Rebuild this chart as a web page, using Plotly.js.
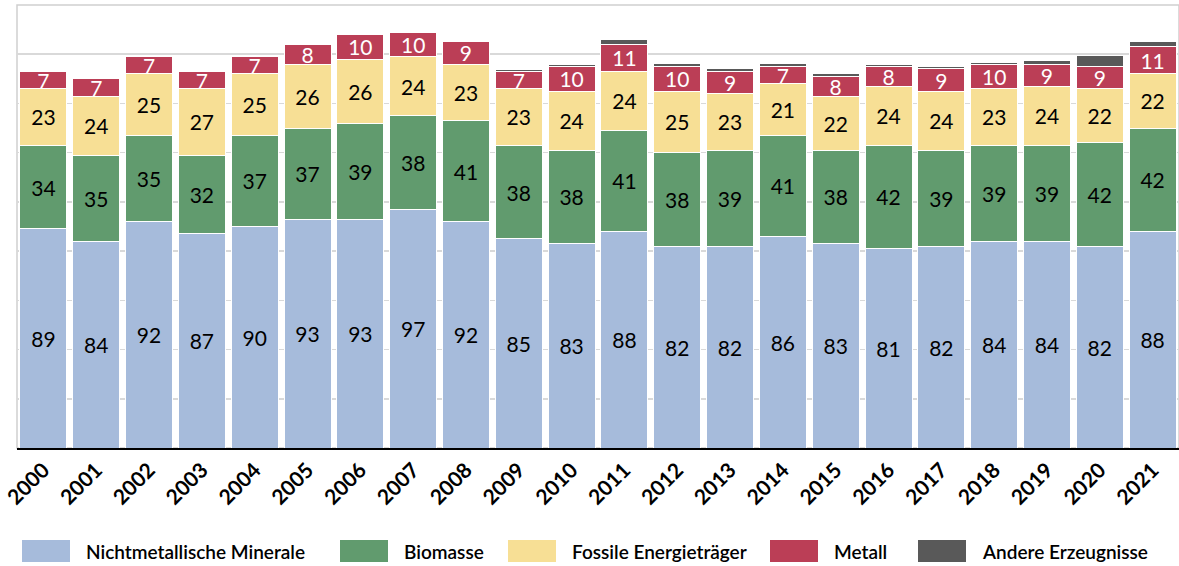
<!DOCTYPE html>
<html>
<head>
<meta charset="utf-8">
<script src="https://cdn.plot.ly/plotly-3.0.1.min.js"></script>
<style>
html,body{margin:0;padding:0;background:#fff;}
#chart{width:1179px;height:566px;}
</style>
</head>
<body>
<div id="chart"></div>
<script>
const years = ["2000","2001","2002","2003","2004","2005","2006","2007","2008","2009","2010","2011","2012","2013","2014","2015","2016","2017","2018","2019","2020","2021"];
const nichtmetallisch = [89,84,92,87,90,93,93,97,92,85,83,88,82,82,86,83,81,82,84,84,82,88];
const biomasse = [34,35,35,32,37,37,39,38,41,38,38,41,38,39,41,38,42,39,39,39,42,42];
const fossile = [23,24,25,27,25,26,26,24,23,23,24,24,25,23,21,22,24,24,23,24,22,22];
const metall = [7,7,7,7,7,8,10,10,9,7,10,11,10,9,7,8,8,9,10,9,9,11];
const andere = [0.5,0.5,0.5,0.2,0.5,0.2,0.4,0.4,0.4,0.6,0.8,1.8,1.2,1.2,1.2,1.0,0.8,1.0,0.6,1.5,4.5,2.0];

const seriesNames = ["Nichtmetallische Minerale","Biomasse","Fossile Energieträger","Metall","Andere Erzeugnisse"];
const seriesColors = ["#a6bbdb","#619b6e","#f7df95","#bb3e56","#595959"];
const seriesData = [nichtmetallisch, biomasse, fossile, metall, andere];
const textColors = ["#000000","#000000","#000000","#ffffff",null];

const FONT = "Lato, 'Open Sans', sans-serif";

const traces = seriesData.map((vals, i) => ({
  type: "bar",
  name: seriesNames[i],
  x: years,
  y: vals,
  marker: {color: seriesColors[i], line: {color: "#ffffff", width: 1}},
  text: textColors[i] ? vals.map(v => String(v)) : undefined,
  textposition: textColors[i] ? "inside" : "none",
  insidetextanchor: "middle",
  textangle: 0,
  constraintext: "none",
  textfont: {family: FONT, size: 21, color: textColors[i] || "#000"},
  hoverinfo: "skip",
  showlegend: false
}));

// Custom legend (wide swatches) built from series names/colours
const legendX = [22, 340, 508, 770, 918];
const shapes = [
  {type: "rect", xref: "paper", yref: "paper", x0: 0, x1: 1, y0: 0, y1: 1,
   line: {color: "#d0d0d0", width: 1.5}, fillcolor: "rgba(0,0,0,0)", layer: "below"}
];
const annotations = [];
const plotL = 17, plotW = 1179 - 17, plotT = 5, plotH = 566 - 5 - 118;
seriesNames.forEach((n, i) => {
  const x0 = (legendX[i] - plotL) / plotW;
  const x1 = (legendX[i] + 48 - plotL) / plotW;
  const yTop = (plotT + plotH - 540) / plotH;
  const yBot = (plotT + plotH - 562) / plotH;
  shapes.push({type: "rect", xref: "paper", yref: "paper", x0: x0, x1: x1, y0: yBot, y1: yTop,
    fillcolor: seriesColors[i], line: {width: 0}});
  annotations.push({xref: "paper", yref: "paper", x: (legendX[i] + 62 - plotL) / plotW,
    y: (plotT + plotH - 551) / plotH, text: n, showarrow: false, xanchor: "left", yanchor: "middle",
    font: {family: FONT, size: 19, color: "#000", weight: 600}});
});

const layout = {
  width: 1179, height: 566,
  margin: {l: 17, r: 0, t: 5, b: 118},
  barmode: "stack",
  bargap: 0.11,
  plot_bgcolor: "#ffffff",
  paper_bgcolor: "#ffffff",
  showlegend: false,
  xaxis: {
    type: "category",
    tickangle: -45,
    tickfont: {family: FONT, size: 21, color: "#000", weight: 700},
    showline: true, linecolor: "#000000", linewidth: 1.5,
    ticks: "", showgrid: false, zeroline: false
  },
  yaxis: {
    range: [0, 180], dtick: 20, showticklabels: false,
    showgrid: true, gridcolor: "#d9d9d9", gridwidth: 1.5,
    zeroline: false, showline: false, ticks: ""
  },
  shapes: shapes,
  annotations: annotations,
  font: {family: FONT}
};

Plotly.newPlot("chart", traces, layout, {displayModeBar: false, staticPlot: true});
</script>
</body>
</html>
